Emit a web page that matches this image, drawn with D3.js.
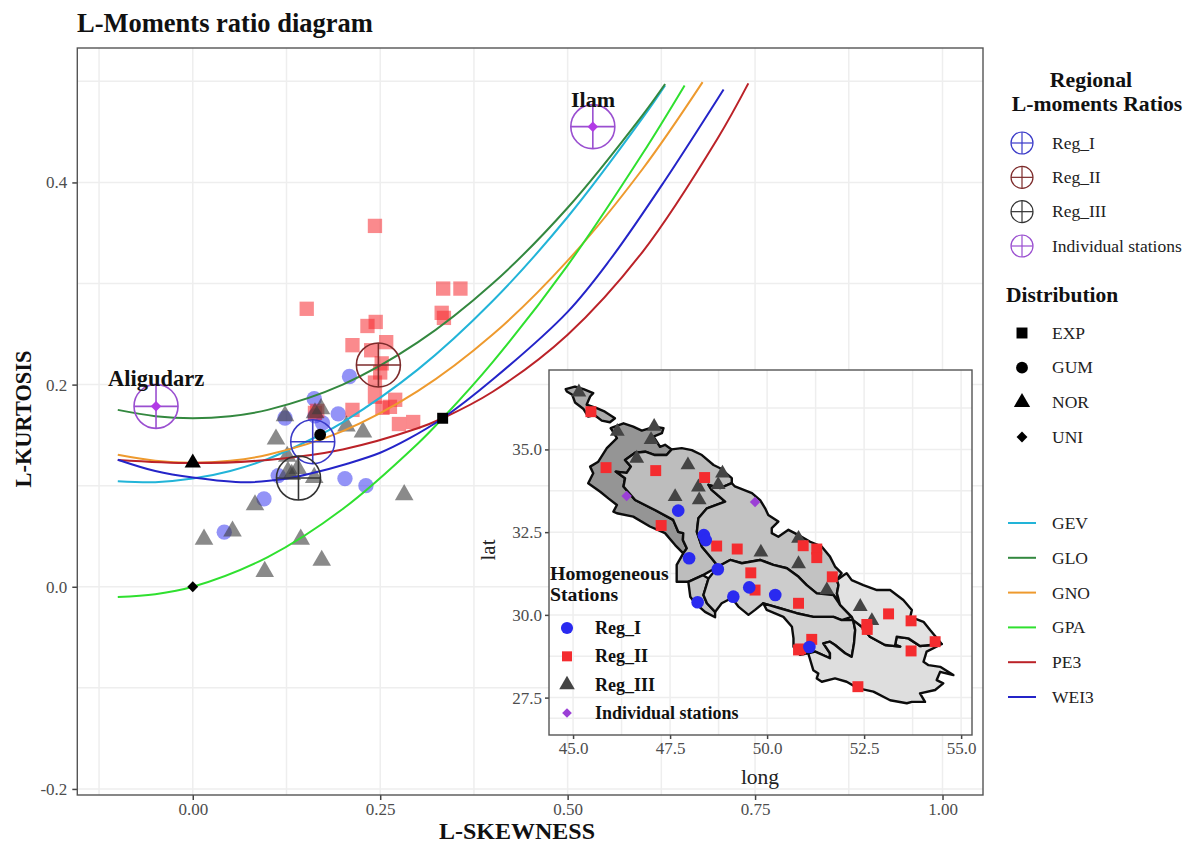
<!DOCTYPE html>
<html>
  <head>
    <meta charset="utf-8">
    <title>L-Moments ratio diagram</title>
    <script src="https://d3js.org/d3.v7.min.js"></script>
    <style>
      html, body { margin: 0; background: #fff; }
      svg { display: block; font-family: "Liberation Serif", serif; }
      .grid line { stroke: #eeeeee; stroke-width: 1.5; }
      .axis path { display: none; }
      .axis line { stroke: #444; stroke-width: 1.5; }
      .axis text { font-family: "Liberation Serif", serif; fill: #4d4d4d; font-size: 17px; }
      .bold { font-weight: bold; fill: #111; }
      .key { font-size: 17.5px; fill: #222; }
    </style>
  </head>

  <body>
    <svg id="chart" width="1187" height="843"></svg>

    <script>
      // ratio diagram: station values [l-skewness, l-kurtosis]
      regIPoints = [[.209,.208],[.162,.186],[.194,.171],[.173,.162],[.123,.167],[.163,.169],[.114,.110],[.203,.107],[.231,.100],[.095,.087],[.042,.054]];
      regIIPoints = [[.243,.357],[.152,.275],[.334,.295],[.357,.295],[.332,.271],[.335,.266],[.244,.262],[.233,.258],[.213,.239],[.258,.242],[.238,.234],[.252,.221],[.250,.212],[.243,.202],[.243,.188],[.270,.185],[.213,.175],[.253,.177],[.263,.178],[.275,.161],[.294,.163],[.163,.172],[.166,.174]];
      regIIIPoints = [[.123,.169],[.171,.176],[.163,.172],[.205,.159],[.227,.153],[.111,.146],[.126,.129],[.127,.114],[.140,.117],[.162,.108],[.132,.111],[.282,.091],[.083,.081],[.053,.055],[.015,.047],[.144,.047],[.172,.026],[.096,.015]];

      // theoretical curves
      gevCurve = [[-.1,.1045],[-.05,.1035],[0,.107],[.05,.1146],[.1,.1265],[.17,.1504],[.2,.1626],[.3,.2148],[.4,.2827],[.5,.3658],[.6,.4638],[.63,.496]];
      gloCurve = [[-.1,.175],[-.05,.1688],[0,.1667],[.05,.1688],[.1,.175],[.2,.2],[.3,.2417],[.4,.3],[.5,.375],[.6,.4667],[.63,.4974]];
      gnoCurve = [[-.1,.1306],[-.05,.1247],[0,.1228],[.05,.1247],[.1,.1306],[.2,.154],[.3,.1935],[.4,.2495],[.5,.3226],[.6,.4133],[.68,.4992]];
      gpaCurve = [[-.1,-.0102],[-.05,-.0074],[0,0],[.1,.0294],[.2,.0769],[.3,.1415],[.3333,.1667],[.4,.2222],[.5,.318],[.6,.4286],[.656,.496]];
      pe3Curve = [[-.1,.1255],[0,.1224],[.1,.1255],[.2,.1359],[.3,.1568],[.3333,.1667],[.4,.1929],[.5,.2494],[.6,.3314],[.7,.4435],[.741,.498]];
      wei3Curve = [[-.1,.1257],[-.05,.1145],[0,.108],[.07,.1033],[.125,.107],[.16,.1125],[.205,.1215],[.25,.1326],[.287,.146],[.3333,.1667],[.4,.205],[.5,.272],[.557,.324],[.628,.4],[.708,.492]];
      curveNames = ["GEV", "GLO", "GNO", "GPA", "PE3", "WEI3"];
      curveColours = ["#22b4d8", "#33883f", "#ee9a2e", "#2fe02f", "#bb2228", "#2424c8"];
      curves = [gevCurve, gloCurve, gnoCurve, gpaCurve, pe3Curve, wei3Curve];

      // reference distributions
      distNames = ["EXP", "GUM", "NOR", "UNI"];
      distPoints = [[.3333,.1667],[.1699,.1504],[0,.1226],[0,0]];

      // regional and individual ratios
      ratioNames = ["Reg_I", "Reg_II", "Reg_III", "Individual stations"];
      ratioColours = ["#3a3ac8", "#7d2b2b", "#333333", "#9a4fd0"];
      ratioPoints = [[.160,.1435],[.2476,.2194],[.141,.1076]];
      individualPoints = [[-.049,.1785,"Aligudarz"],[.5336,.4552,"Ilam"]];

      xTicks = [0, .25, .5, .75, 1];
      yTicks = [-.2, 0, .2, .4];
      xMinor = [-.125, .125, .375, .625, .875];
      yMinor = [-.1, .1, .3, .5];

      // inset map: basin outlines as [long, lat]
      sliver = [[44.81,36.82],[45.05,36.90],[45.27,36.82],[45.52,36.70],[45.44,36.60],[45.35,36.35],[45.61,36.25],[45.82,36.14],[46.08,35.94],[45.95,35.82],[45.74,35.87],[45.55,36.04],[45.39,35.99],[45.27,36.22],[45.05,36.42],[44.98,36.65],[44.84,36.75]];
      westBasin = [[45.97,35.64],[46.30,35.79],[46.55,35.69],[46.77,35.57],[47.11,35.69],[47.33,35.64],[47.29,35.49],[47.07,35.39],[47.24,35.08],[47.37,35.14],[47.54,35.00],[47.41,34.83],[47.11,34.83],[46.86,34.93],[46.60,34.90],[46.34,34.68],[46.49,34.48],[46.38,34.29],[46.10,34.33],[46.34,34.13],[46.30,33.88],[46.60,33.47],[47.11,33.17],[47.58,32.87],[47.71,32.51],[47.84,32.47],[47.83,32.26],[47.93,32.01],[47.84,31.86],[47.63,32.11],[47.37,32.47],[46.98,32.67],[46.55,32.97],[46.13,33.07],[46.04,33.12],[46.13,33.32],[45.91,33.52],[45.70,33.72],[45.39,33.98],[45.52,34.28],[45.44,34.48],[45.65,34.63],[45.87,35.04],[46.13,35.34],[46.00,35.59]];
      northBasin = [[46.34,34.68],[46.60,34.90],[46.86,34.93],[47.11,34.83],[47.41,34.83],[47.54,35.00],[47.80,35.04],[48.06,34.98],[48.32,34.83],[48.62,34.53],[48.79,34.43],[49.09,34.13],[49.09,33.98],[48.79,33.83],[48.49,33.93],[48.57,33.78],[48.92,33.42],[48.45,33.22],[48.23,32.92],[48.19,32.51],[48.32,32.06],[48.57,31.71],[48.74,31.46],[48.35,31.20],[47.97,31.00],[47.67,31.00],[47.67,31.51],[47.84,31.86],[47.93,32.01],[47.83,32.26],[47.84,32.47],[47.71,32.51],[47.58,32.87],[47.11,33.17],[46.60,33.47],[46.30,33.88],[46.34,34.13],[46.10,34.33],[46.38,34.29],[46.49,34.48]];
      smallBasin = [[47.97,31.00],[48.35,31.20],[48.49,31.10],[48.36,30.60],[48.45,30.35],[48.66,30.09],[48.66,29.93],[48.40,30.09],[48.14,30.36],[48.02,30.55]];
      midBasin = [[48.49,33.93],[48.79,33.83],[49.09,33.98],[49.17,33.88],[49.61,33.68],[49.82,33.47],[49.95,33.22],[50.03,33.02],[50.29,32.82],[50.12,32.62],[50.12,32.47],[50.29,32.36],[50.55,32.57],[50.81,32.41],[51.11,32.21],[51.41,32.06],[51.62,31.76],[51.75,31.46],[51.92,31.26],[51.80,31.05],[51.84,30.90],[51.80,30.65],[51.88,30.30],[52.18,29.94],[51.71,30.60],[51.28,30.65],[51.02,30.90],[50.81,31.15],[50.51,31.41],[50.16,31.51],[49.82,31.66],[49.35,31.56],[49.05,31.66],[48.74,31.46],[48.57,31.71],[48.32,32.06],[48.19,32.51],[48.23,32.92],[48.45,33.22],[48.92,33.42],[48.57,33.78]];
      centralBasin = [[48.74,31.46],[49.05,31.66],[49.35,31.56],[49.82,31.66],[50.16,31.51],[50.51,31.41],[50.81,31.15],[51.02,30.90],[51.28,30.65],[51.71,30.60],[51.88,30.30],[52.18,29.94],[51.92,29.84],[51.71,29.94],[51.19,29.94],[50.76,30.05],[50.33,30.20],[49.90,30.35],[49.69,30.15],[49.52,30.00],[49.26,30.25],[49.09,30.51],[48.83,30.35],[48.66,30.09],[48.45,30.35],[48.36,30.60],[48.49,31.10]];
      southBasin = [[49.90,30.35],[50.33,30.20],[50.76,30.05],[51.19,29.94],[51.71,29.94],[51.92,29.84],[52.22,29.84],[52.27,29.54],[52.24,29.14],[52.18,28.73],[52.01,28.84],[51.75,29.09],[51.62,29.19],[51.45,29.14],[51.62,28.84],[51.62,28.69],[51.24,28.89],[51.06,28.84],[50.85,28.79],[50.68,29.04],[50.68,29.29],[50.64,29.64],[50.42,29.94],[49.99,30.15]];
      coastBasin = [[51.06,28.84],[51.19,28.33],[51.32,28.23],[51.28,28.08],[51.41,27.98],[51.75,28.08],[52.05,27.98],[52.35,27.78],[52.74,27.68],[53.17,27.42],[53.60,27.33],[53.73,27.37],[54.07,27.37],[53.94,27.63],[54.33,27.73],[54.54,27.93],[54.37,28.03],[54.46,28.28],[54.80,28.18],[54.46,28.43],[54.16,28.48],[54.03,28.58],[54.11,28.89],[54.50,29.12],[53.94,29.06],[53.64,29.29],[53.34,29.34],[53.30,29.09],[53.43,29.04],[53.04,29.09],[52.65,29.34],[52.44,29.64],[52.22,29.84],[52.27,29.54],[52.24,29.14],[52.18,28.73],[52.01,28.84],[51.75,29.09],[51.62,29.19],[51.45,29.14],[51.62,28.84],[51.62,28.69],[51.24,28.89]];
      eastBasin = [[51.97,31.20],[52.05,31.26],[52.18,31.05],[52.48,30.90],[52.83,30.75],[53.17,30.75],[53.51,30.45],[53.73,30.15],[53.69,29.94],[54.03,29.79],[54.20,29.54],[54.50,29.12],[53.94,29.06],[53.64,29.29],[53.34,29.34],[53.30,29.09],[53.43,29.04],[53.04,29.09],[52.65,29.34],[52.44,29.64],[52.22,29.84],[52.18,29.94],[51.88,30.30],[51.80,30.65],[51.84,30.90],[51.80,31.05]];
      basins = [sliver, westBasin, northBasin, smallBasin, midBasin, centralBasin, southBasin, coastBasin, eastBasin];
      basinFills = ["#ababab", "#959595", "#bdbdbd", "#c4c4c4", "#c2c2c2", "#cccccc", "#d2d2d2", "#dedede", "#e2e2e2"];

      // inset map: stations as [long, lat]
      mapRegI = [[47.71,33.15],[48.37,32.41],[48.42,32.26],[47.99,31.71],[48.73,31.38],[49.54,30.83],[50.21,30.60],[49.13,30.55],[48.21,30.38],[51.09,29.03]];
      mapRegII = [[45.46,36.14],[45.85,34.45],[47.13,34.36],[48.39,34.15],[47.27,32.70],[48.70,32.08],[49.23,31.99],[49.58,31.27],[49.69,30.75],[50.81,30.35],[50.93,32.09],[51.28,31.99],[51.28,31.73],[51.68,31.15],[51.15,29.26],[50.81,28.94],[50.86,28.97],[52.34,27.83],[52.57,29.71],[52.58,29.56],[53.13,30.03],[53.71,29.82],[54.33,29.19],[53.71,28.91]];
      mapRegIII = [[45.15,36.73],[46.14,35.54],[47.09,35.69],[47.01,35.29],[46.64,34.73],[47.96,34.53],[48.85,34.28],[48.74,33.93],[48.23,33.86],[47.63,33.57],[48.25,33.47],[49.84,31.89],[50.81,31.54],[50.81,32.31],[51.54,30.75],[52.40,30.25],[52.70,29.82]];
      mapIndividual = [[46.38,33.59],[49.69,33.41]];

      longTicks = [45, 47.5, 50, 52.5, 55];
      latTicks = [27.5, 30, 32.5, 35];
      longMinor = [46.25, 48.75, 51.25, 53.75];
      latMinor = [28.75, 31.25, 33.75, 36.25, 26.875];

      keyNames = ["Reg_I", "Reg_II", "Reg_III", "Individual stations"];

      // scales
      svg = d3.select("#chart");
      x = d3.scaleLinear().domain([-.154, 1.054]).range([77.3, 983]);
      y = d3.scaleLinear().domain([-.206, .533]).range([795, 48]);
      mapX = d3.scaleLinear().domain([44.38, 55.28]).range([549, 972]);
      mapY = d3.scaleLinear().domain([26.37, 37.4]).range([735, 370]);

      function marker(type, size) {
        return d3.symbol().type(type).size(size)();
      }

      function drawSymbols(parent, data, xs, ys, type, size, fill, opacity) {
        parent.append("g")
          .selectAll("path")
            .data(data)
          .enter().append("path")
            .attr("d", marker(type, size))
            .attr("transform", function(d) { return "translate(" + xs(d[0]) + "," + ys(d[1]) + ")"; })
            .attr("fill", fill)
            .attr("fill-opacity", opacity);
      }

      function crosshair(parent, cx, cy, r, colour, width) {
        g = parent.append("g")
          .attr("transform", "translate(" + cx + "," + cy + ")")
          .attr("fill", "none")
          .attr("stroke", colour)
          .attr("stroke-width", width);
        g.append("circle").attr("r", r);
        g.append("line").attr("x1", -r).attr("x2", r);
        g.append("line").attr("y1", -r).attr("y2", r);
      }

      // main grid
      grid = svg.append("g").attr("class", "grid");
      grid.selectAll(".v")
          .data(xTicks.concat(xMinor))
        .enter().append("line")
          .attr("class", "v")
          .attr("x1", function(d) { return x(d); })
          .attr("x2", function(d) { return x(d); })
          .attr("y1", y.range()[1])
          .attr("y2", y.range()[0]);
      grid.selectAll(".h")
          .data(yTicks.concat(yMinor))
        .enter().append("line")
          .attr("class", "h")
          .attr("x1", x.range()[0])
          .attr("x2", x.range()[1])
          .attr("y1", function(d) { return y(d); })
          .attr("y2", function(d) { return y(d); });

      // station points
      drawSymbols(svg, regIPoints, x, y, d3.symbolCircle, 185, "#3a3af0", .55);
      drawSymbols(svg, regIIPoints, x, y, d3.symbolSquare, 205, "#f62a2f", .55);
      drawSymbols(svg, regIIIPoints, x, y, d3.symbolTriangle, 150, "#3c3c3c", .6);

      // theoretical curves
      line = d3.line()
        .x(function(d) { return x(d[0]); })
        .y(function(d) { return y(d[1]); })
        .curve(d3.curveCatmullRom);
      svg.append("g")
        .selectAll("path")
          .data(curves)
        .enter().append("path")
          .attr("d", line)
          .attr("fill", "none")
          .attr("stroke", function(d, i) { return curveColours[i]; })
          .attr("stroke-width", 2);

      // reference distributions
      drawSymbols(svg, [distPoints[0]], x, y, d3.symbolSquare, 120, "#000", 1);
      drawSymbols(svg, [distPoints[1]], x, y, d3.symbolCircle, 110, "#000", 1);
      drawSymbols(svg, [distPoints[2]], x, y, d3.symbolTriangle, 115, "#000", 1);
      drawSymbols(svg, [distPoints[3]], x, y, d3.symbolDiamond2, 75, "#000", 1);

      // regional ratios
      ratioPoints.forEach(function(d, i) {
        crosshair(svg, x(d[0]), y(d[1]), 22, ratioColours[i], 1.6);
      });
      individualPoints.forEach(function(d) {
        crosshair(svg, x(d[0]), y(d[1]), 22, ratioColours[3], 1.6);
      });
      drawSymbols(svg, individualPoints, x, y, d3.symbolDiamond2, 70, "#b23be6", 1);

      svg.append("text").attr("class", "bold").attr("x", 108).attr("y", 386).attr("font-size", 22.5).text(individualPoints[0][2]);
      svg.append("text").attr("class", "bold").attr("x", 571).attr("y", 107).attr("font-size", 22).text(individualPoints[1][2]);

      // main axes and frame
      svg.append("g")
          .attr("class", "axis")
          .attr("transform", "translate(77.3,0)")
          .call(d3.axisLeft(y).tickValues(yTicks).tickSize(5).tickPadding(5)
            .tickFormat(function(d) { return d.toFixed(1); }));
      svg.append("g")
          .attr("class", "axis")
          .attr("transform", "translate(0,795)")
          .call(d3.axisBottom(x).tickValues(xTicks).tickSize(5).tickPadding(3)
            .tickFormat(function(d) { return d.toFixed(2); }));
      svg.append("rect")
          .attr("x", 77.3).attr("y", 48).attr("width", 905.7).attr("height", 747)
          .attr("fill", "none").attr("stroke", "#555").attr("stroke-width", 1.4);

      svg.append("text").attr("class", "bold").attr("x", 77).attr("y", 32).attr("font-size", 26.5).text("L-Moments ratio diagram");
      svg.append("text").attr("class", "bold").attr("x", 517).attr("y", 839).attr("text-anchor", "middle").attr("font-size", 24).text("L-SKEWNESS");
      svg.append("text").attr("class", "bold").attr("transform", "translate(31,419) rotate(-90)").attr("text-anchor", "middle").attr("font-size", 22.4).text("L-KURTOSIS");

      // inset map
      inset = svg.append("g");
      inset.append("rect")
          .attr("x", 549).attr("y", 370).attr("width", 423).attr("height", 365)
          .attr("fill", "#fff");
      mapGrid = inset.append("g").attr("class", "grid");
      mapGrid.selectAll(".v")
          .data(longTicks.concat(longMinor))
        .enter().append("line")
          .attr("class", "v")
          .attr("x1", function(d) { return mapX(d); })
          .attr("x2", function(d) { return mapX(d); })
          .attr("y1", 370)
          .attr("y2", 735);
      mapGrid.selectAll(".h")
          .data(latTicks.concat(latMinor))
        .enter().append("line")
          .attr("class", "h")
          .attr("x1", 549)
          .attr("x2", 972)
          .attr("y1", function(d) { return mapY(d); })
          .attr("y2", function(d) { return mapY(d); });

      outline = d3.line()
        .x(function(d) { return mapX(d[0]); })
        .y(function(d) { return mapY(d[1]); })
        .curve(d3.curveLinearClosed);
      inset.append("g")
        .selectAll("path")
          .data(basins)
        .enter().append("path")
          .attr("d", outline)
          .attr("fill", function(d, i) { return basinFills[i]; })
          .attr("stroke", "#0c0c0c")
          .attr("stroke-width", 2.4)
          .attr("stroke-linejoin", "round");

      drawSymbols(inset, mapRegIII, mapX, mapY, d3.symbolTriangle, 95, "#444", 1);
      drawSymbols(inset, mapRegII, mapX, mapY, d3.symbolSquare, 120, "#f42c2f", 1);
      drawSymbols(inset, mapRegI, mapX, mapY, d3.symbolCircle, 125, "#2a2af0", 1);
      drawSymbols(inset, mapIndividual, mapX, mapY, d3.symbolDiamond2, 70, "#9b3fd6", 1);

      inset.append("g")
          .attr("class", "axis")
          .attr("transform", "translate(549,0)")
          .call(d3.axisLeft(mapY).tickValues(latTicks).tickSize(4).tickPadding(3)
            .tickFormat(function(d) { return d.toFixed(1); }));
      inset.append("g")
          .attr("class", "axis")
          .attr("transform", "translate(0,735)")
          .call(d3.axisBottom(mapX).tickValues(longTicks).tickSize(4).tickPadding(3)
            .tickFormat(function(d) { return d.toFixed(1); }));
      inset.append("rect")
          .attr("x", 549).attr("y", 370).attr("width", 423).attr("height", 365)
          .attr("fill", "none").attr("stroke", "#555").attr("stroke-width", 1.4);

      inset.append("text").attr("x", 760).attr("y", 784).attr("text-anchor", "middle").attr("font-size", 21.5).attr("fill", "#222").text("long");
      inset.append("text").attr("transform", "translate(495,550) rotate(-90)").attr("text-anchor", "middle").attr("font-size", 21).attr("fill", "#222").text("lat");

      // inset legend
      inset.append("text").attr("class", "bold").attr("x", 550).attr("y", 580).attr("font-size", 19.8).text("Homogeneous");
      inset.append("text").attr("class", "bold").attr("x", 550).attr("y", 601).attr("font-size", 19.8).text("Stations");
      insetKeyY = d3.scalePoint().domain(keyNames).range([628, 713]);
      insetTypes = [d3.symbolCircle, d3.symbolSquare, d3.symbolTriangle, d3.symbolDiamond2];
      insetSizes = [115, 100, 105, 60];
      insetFills = ["#2a2af0", "#f42c2f", "#444", "#9b3fd6"];
      keyNames.forEach(function(name, i) {
        inset.append("path")
            .attr("d", marker(insetTypes[i], insetSizes[i]))
            .attr("transform", "translate(567," + insetKeyY(name) + ")")
            .attr("fill", insetFills[i]);
        inset.append("text")
            .attr("class", "bold")
            .attr("x", 595).attr("y", insetKeyY(name) + 6)
            .attr("font-size", 18)
            .text(name);
      });

      // right legends
      svg.append("text").attr("class", "bold").attr("x", 1091).attr("y", 87).attr("text-anchor", "middle").attr("font-size", 21.8).text("Regional");
      svg.append("text").attr("class", "bold").attr("x", 1097).attr("y", 111).attr("text-anchor", "middle").attr("font-size", 21.7).text("L-moments Ratios");
      ratioKeyY = d3.scalePoint().domain(ratioNames).range([143, 246]);
      ratioNames.forEach(function(name, i) {
        crosshair(svg, 1022, ratioKeyY(name), 11, ratioColours[i], 1.2);
        svg.append("text").attr("class", "key").attr("x", 1052).attr("y", ratioKeyY(name) + 5.5).text(name);
      });

      svg.append("text").attr("class", "bold").attr("x", 1006).attr("y", 302).attr("font-size", 21.5).text("Distribution");
      distKeyY = d3.scalePoint().domain(distNames).range([333, 437]);
      distTypes = [d3.symbolSquare, d3.symbolCircle, d3.symbolTriangle, d3.symbolDiamond2];
      distSizes = [120, 110, 115, 75];
      distNames.forEach(function(name, i) {
        svg.append("path")
            .attr("d", marker(distTypes[i], distSizes[i]))
            .attr("transform", "translate(1022," + distKeyY(name) + ")")
            .attr("fill", "#000");
        svg.append("text").attr("class", "key").attr("x", 1052).attr("y", distKeyY(name) + 5.5).text(name);
      });

      curveKeyY = d3.scalePoint().domain(curveNames).range([523, 697]);
      curveNames.forEach(function(name, i) {
        svg.append("line")
            .attr("x1", 1008).attr("x2", 1036)
            .attr("y1", curveKeyY(name)).attr("y2", curveKeyY(name))
            .attr("stroke", curveColours[i])
            .attr("stroke-width", 2);
        svg.append("text").attr("class", "key").attr("x", 1052).attr("y", curveKeyY(name) + 6).text(name);
      });
    </script>
  </body>
</html>
